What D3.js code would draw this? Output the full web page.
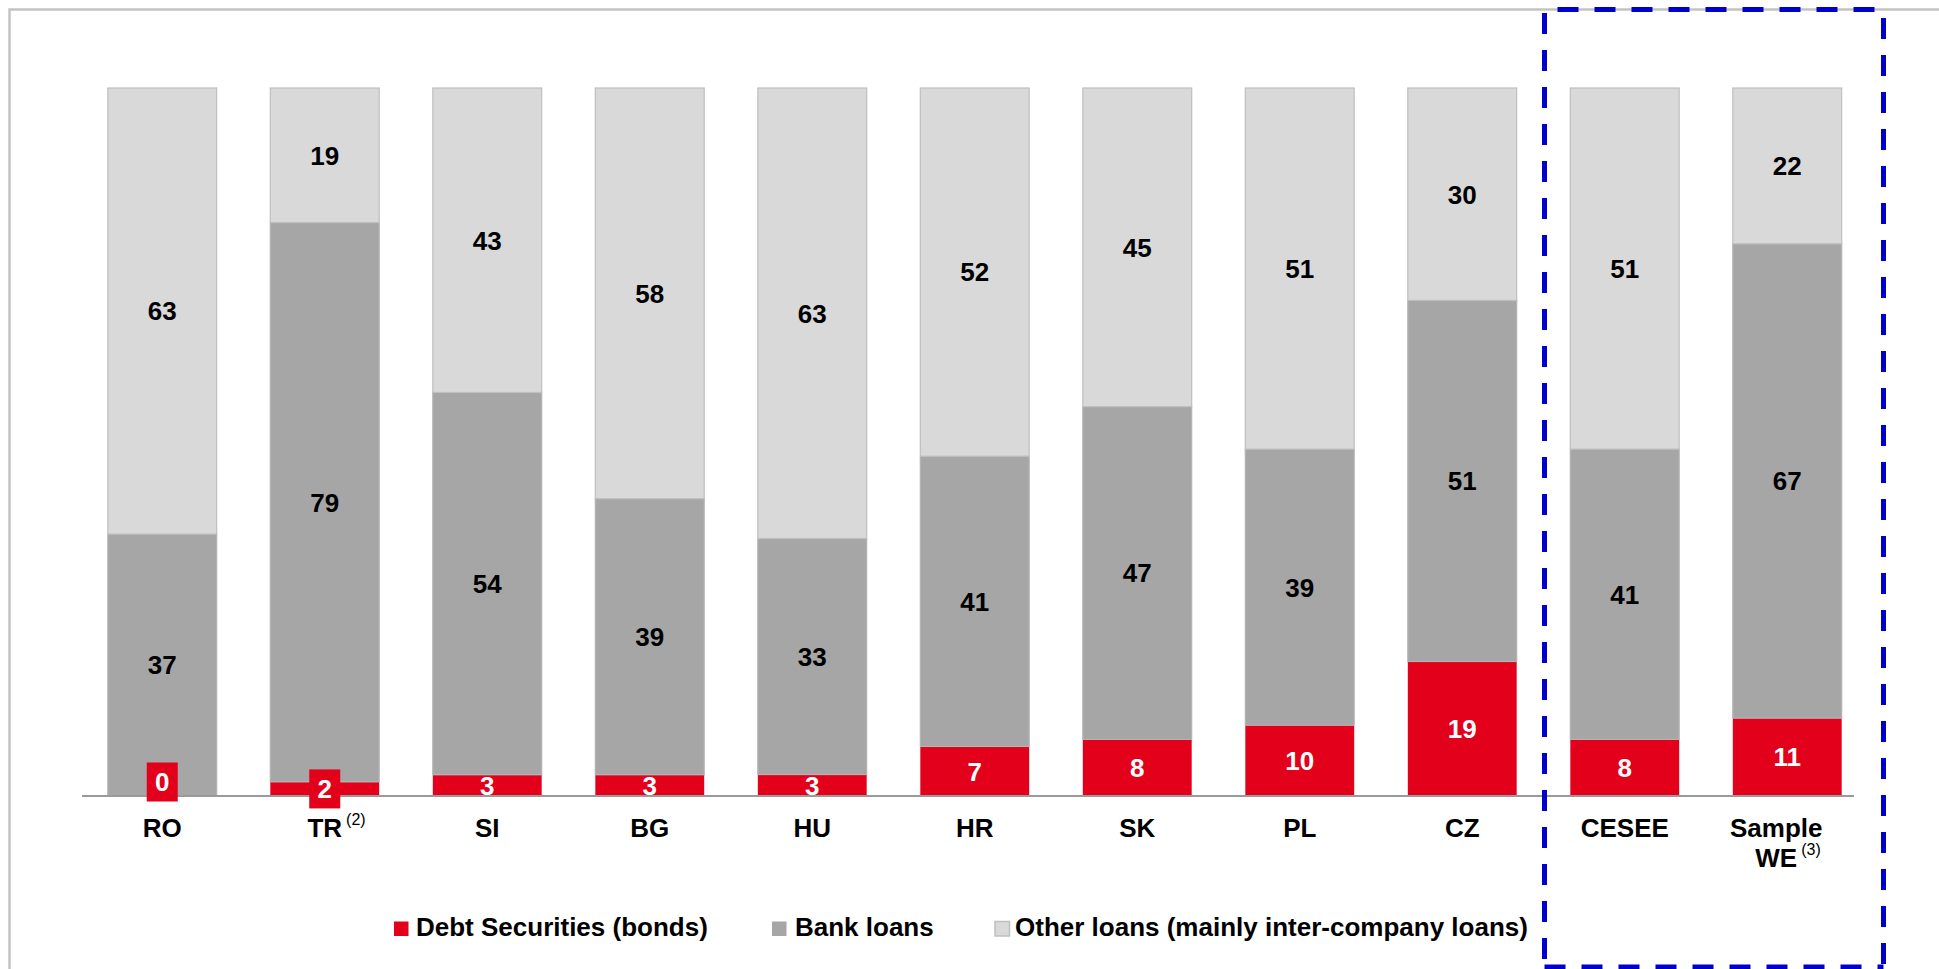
<!DOCTYPE html>
<html>
<head>
<meta charset="utf-8">
<script src="https://cdn.jsdelivr.net/npm/d3@7"></script>
<style>
  html, body { margin: 0; padding: 0; background: #fff; }
  svg { display: block; }
  text { font-family: "Liberation Sans", Arial, sans-serif; }
</style>
</head>
<body>
<svg id="chart" width="1939" height="969"></svg>
<script>
// ---- data ----
const categories = ["RO", "TR", "SI", "BG", "HU", "HR", "SK", "PL", "CZ", "CESEE", "Sample WE"];
const superscripts = ["", "(2)", "", "", "", "", "", "", "", "", "(3)"];
const debtSecurities = [0, 2, 3, 3, 3, 7, 8, 10, 19, 8, 11];
const bankLoans = [37, 79, 54, 39, 33, 41, 47, 39, 51, 41, 67];
const otherLoans = [63, 19, 43, 58, 63, 52, 45, 51, 30, 51, 22];
const seriesNames = ["Debt Securities (bonds)", "Bank loans", "Other loans (mainly inter-company loans)"];
const seriesKeys = ["debt", "bank", "other"];

// ---- build table ----
const table = categories.map((c, i) => ({
  cat: c, sup: superscripts[i],
  debt: debtSecurities[i], bank: bankLoans[i], other: otherLoans[i]
}));

const colors = { debt: "#e2001a", bank: "#a6a6a6", other: "#d9d9d9" };
const strokes = { debt: "none", bank: "#b3b3b3", other: "#bfbfbf" };
const labelColors = { debt: "#ffffff", bank: "#000000", other: "#000000" };

const svg = d3.select("#chart");

// outer frame
svg.append("rect")
  .attr("x", 9.5).attr("y", 9.5).attr("width", 2000).attr("height", 1000)
  .attr("fill", "none").attr("stroke", "#c3c3c3").attr("stroke-width", 2.5);

const x = d3.scaleBand().domain(categories).range([81, 1868.5])
  .paddingInner(0.33).paddingOuter(0.165);
const y = d3.scaleLinear().domain([0, 1]).range([796, 88]);

const stack = d3.stack().keys(seriesKeys).offset(d3.stackOffsetExpand);
const stacked = stack(table);

const layers = svg.append("g").selectAll("g").data(stacked).join("g")
  .attr("fill", d => colors[d.key])
  .attr("stroke", d => strokes[d.key])
  .attr("stroke-width", 1.2);

layers.selectAll("rect").data(d => d).join("rect")
  .attr("x", d => x(d.data.cat))
  .attr("width", x.bandwidth())
  .attr("y", d => y(d[1]))
  .attr("height", d => y(d[0]) - y(d[1]));

// axis baseline
svg.append("line")
  .attr("x1", 82).attr("x2", 1854)
  .attr("y1", y(0)).attr("y2", y(0))
  .attr("stroke", "#9a9a9a").attr("stroke-width", 2);

// value labels
const labelG = svg.append("g");
stacked.forEach(layer => {
  layer.forEach(d => {
    const v = d.data[layer.key];
    const cx = x(d.data.cat) + x.bandwidth() / 2;
    let cy = (y(d[0]) + y(d[1])) / 2;
    const small = layer.key === "debt" && v < 3;
    if (small) {
      if (v === 0) cy = y(0) - 14;
      labelG.append("rect")
        .attr("x", cx - 15.5).attr("y", cy - 19.5)
        .attr("width", 31).attr("height", 39)
        .attr("fill", colors.debt);
    }
    labelG.append("text")
      .attr("x", cx).attr("y", cy).attr("dy", "0.36em")
      .attr("text-anchor", "middle")
      .attr("font-size", 26).attr("font-weight", "bold")
      .attr("fill", labelColors[layer.key])
      .text(v);
  });
});

// category labels (custom axis)
const xAxis = d3.axisBottom(x).tickSize(0).tickFormat("");
svg.append("g").attr("transform", `translate(0,${y(0)})`).call(xAxis)
  .call(g => g.select(".domain").remove());

const catG = svg.append("g");
table.forEach(d => {
  const cx = x(d.cat) + x.bandwidth() / 2;
  const words = d.cat.split(" ");
  const shift = words.length > 1 ? -11 : 0;
  words.forEach((w, li) => {
    const t = catG.append("text")
      .attr("x", cx + shift).attr("y", 837 + li * 30)
      .attr("text-anchor", "middle")
      .attr("font-size", 26).attr("font-weight", "bold")
      .attr("fill", "#000").text(w);
    if (li === words.length - 1 && d.sup) {
      const bw = t.node().getComputedTextLength();
      catG.append("text")
        .attr("x", cx + shift + bw / 2 + 4).attr("y", 837 + li * 30 - 12)
        .attr("font-size", 16).attr("fill", "#000").text(d.sup);
    }
  });
});

// legend
const legendPos = [
  { sx: 394, tx: 416 },
  { sx: 772, tx: 795 },
  { sx: 995, tx: 1015 }
];
const legG = svg.append("g");
seriesKeys.forEach((k, i) => {
  legG.append("rect")
    .attr("x", legendPos[i].sx).attr("y", 921.5)
    .attr("width", 14.5).attr("height", 14.5)
    .attr("fill", colors[k])
    .attr("stroke", k === "other" ? "#bfbfbf" : "none").attr("stroke-width", 1.5);
  legG.append("text")
    .attr("x", legendPos[i].tx).attr("y", 936)
    .attr("font-size", 26).attr("font-weight", "bold")
    .attr("fill", "#000").text(seriesNames[i]);
});

// dashed highlight box
const box = svg.append("g").attr("stroke", "#0000cc").attr("stroke-width", 5)
  .attr("stroke-dasharray", "21 16").attr("fill", "none");
box.append("line").attr("x1", 1544.5).attr("x2", 1883.5).attr("y1", 9.5).attr("y2", 9.5)
  .attr("stroke-dashoffset", 24);
box.append("line").attr("x1", 1544.5).attr("x2", 1544.5).attr("y1", 9.5).attr("y2", 967)
  .attr("stroke-dashoffset", 33.5);
box.append("line").attr("x1", 1883.5).attr("x2", 1883.5).attr("y1", 9.5).attr("y2", 969)
  .attr("stroke-dashoffset", 28.5);
box.append("line").attr("x1", 1544.5).attr("x2", 1883.5).attr("y1", 967).attr("y2", 967)
  .attr("stroke-dashoffset", 0);
</script>
</body>
</html>
